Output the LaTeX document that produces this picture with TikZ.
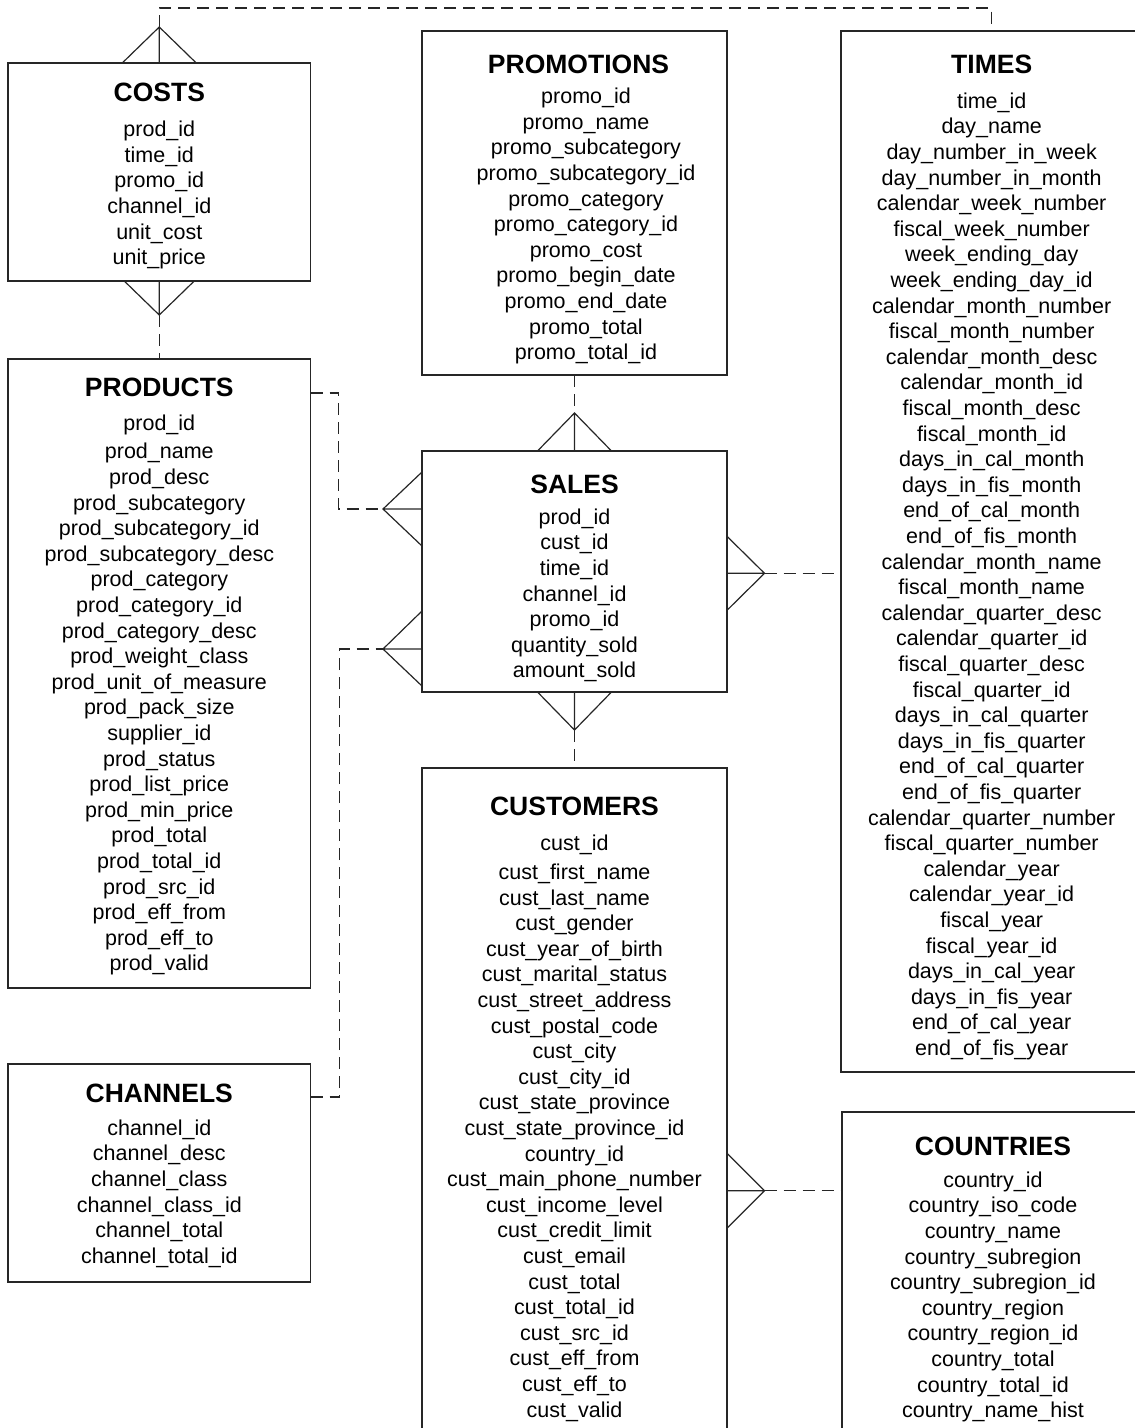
\documentclass[tikz,border=0pt]{standalone}
\usepackage{fontspec}
\setmainfont{Liberation Sans}
\usetikzlibrary{calc}
\tikzset{
  tbl/.style={draw=black!85, line width=1.3pt, anchor=north west, inner sep=0pt, outer sep=0pt},
  ttl/.style={anchor=base, inner sep=0pt, font=\fontsize{26.5}{30}\selectfont\bfseries},
  flds/.style={anchor=north, inner sep=0pt, align=center, font=\fontsize{21.5}{25.6}\selectfont},
  foot/.style={line width=1.2pt, draw=black!85},
  rel/.style={line width=1.2pt, draw=black!85, dash pattern=on 12pt off 7pt},
}
\newcommand{\fr}{\rule{0pt}{17pt}}
\begin{document}
\begin{tikzpicture}[x=1pt, y=-1pt]
\useasboundingbox (0,0) rectangle (1135,1428);
\clip (0,0) rectangle (1135,1428);
\coordinate (top) at (0,8);

% ---------- tables ----------
\node[tbl, minimum width=302.5pt, minimum height=218pt] (costs) at (8,63) {};
\node[ttl] (costsT) at (159.3,101) {COSTS};
\node[flds] (costsF) at (159.3,119.5) {\fr prod\_id\\time\_id\\promo\_id\\channel\_id\\unit\_cost\\unit\_price};

\node[tbl, minimum width=305pt, minimum height=344pt] (promotions) at (422,31) {};
\node[ttl] (promotionsT) at (578.5,73.3) {PROMOTIONS};
\node[flds] (promotionsF) at (586,86.5) {\fr promo\_id\\promo\_name\\promo\_subcategory\\promo\_subcategory\_id\\promo\_category\\promo\_category\_id\\promo\_cost\\promo\_begin\_date\\promo\_end\_date\\promo\_total\\promo\_total\_id};

\node[tbl, minimum width=301.4pt, minimum height=1041pt] (times) at (841,31) {};
\node[ttl] (timesT) at (991.7,73) {TIMES};
\node[flds] (timesF) at (991.7,91) {\fr time\_id\\day\_name\\day\_number\_in\_week\\day\_number\_in\_month\\calendar\_week\_number\\fiscal\_week\_number\\week\_ending\_day\\week\_ending\_day\_id\\calendar\_month\_number\\fiscal\_month\_number\\calendar\_month\_desc\\calendar\_month\_id\\fiscal\_month\_desc\\fiscal\_month\_id\\days\_in\_cal\_month\\days\_in\_fis\_month\\end\_of\_cal\_month\\end\_of\_fis\_month\\calendar\_month\_name\\fiscal\_month\_name\\calendar\_quarter\_desc\\calendar\_quarter\_id\\fiscal\_quarter\_desc\\fiscal\_quarter\_id\\days\_in\_cal\_quarter\\days\_in\_fis\_quarter\\end\_of\_cal\_quarter\\end\_of\_fis\_quarter\\calendar\_quarter\_number\\fiscal\_quarter\_number\\calendar\_year\\calendar\_year\_id\\fiscal\_year\\fiscal\_year\_id\\days\_in\_cal\_year\\days\_in\_fis\_year\\end\_of\_cal\_year\\end\_of\_fis\_year};

\node[tbl, minimum width=302.5pt, minimum height=629pt] (products) at (8,359) {};
\node[ttl] (productsT) at (159.3,396.7) {PRODUCTS};
\node[flds] (productsF) at (159.3,413.7) {\fr prod\_id\\[2.4pt]prod\_name\\prod\_desc\\prod\_subcategory\\prod\_subcategory\_id\\prod\_subcategory\_desc\\prod\_category\\prod\_category\_id\\prod\_category\_desc\\prod\_weight\_class\\prod\_unit\_of\_measure\\prod\_pack\_size\\supplier\_id\\prod\_status\\prod\_list\_price\\prod\_min\_price\\prod\_total\\prod\_total\_id\\prod\_src\_id\\prod\_eff\_from\\prod\_eff\_to\\prod\_valid};

\node[tbl, minimum width=305pt, minimum height=241pt] (sales) at (422,451) {};
\node[ttl] (salesT) at (574.5,493.5) {SALES};
\node[flds] (salesF) at (574.5,507) {\fr prod\_id\\cust\_id\\time\_id\\channel\_id\\promo\_id\\quantity\_sold\\amount\_sold};

\node[tbl, minimum width=305pt, minimum height=680pt] (customers) at (422,768) {};
\node[ttl] (customersT) at (574.5,815) {CUSTOMERS};
\node[flds] (customersF) at (574.5,833.7) {\fr cust\_id\\[3pt]cust\_first\_name\\cust\_last\_name\\cust\_gender\\cust\_year\_of\_birth\\cust\_marital\_status\\cust\_street\_address\\cust\_postal\_code\\cust\_city\\cust\_city\_id\\cust\_state\_province\\cust\_state\_province\_id\\country\_id\\cust\_main\_phone\_number\\cust\_income\_level\\cust\_credit\_limit\\cust\_email\\cust\_total\\cust\_total\_id\\cust\_src\_id\\cust\_eff\_from\\cust\_eff\_to\\cust\_valid};

\node[tbl, minimum width=302.5pt, minimum height=218pt] (channels) at (8,1064) {};
\node[ttl] (channelsT) at (159.3,1102.7) {CHANNELS};
\node[flds] (channelsF) at (159.3,1118) {\fr channel\_id\\channel\_desc\\channel\_class\\channel\_class\_id\\channel\_total\\channel\_total\_id};

\node[tbl, minimum width=302pt, minimum height=340pt] (countries) at (842,1112) {};
\node[ttl] (countriesT) at (993,1155) {COUNTRIES};
\node[flds] (countriesF) at (993,1170) {\fr country\_id\\country\_iso\_code\\country\_name\\country\_subregion\\country\_subregion\_id\\country\_region\\country\_region\_id\\country\_total\\country\_total\_id\\country\_name\_hist};

% ---------- COSTS -- TIMES ----------
\coordinate (a1) at ($(costs.north)+(0,-36)$);
\draw[foot] ($(costs.north)+(-37,0)$) -- (a1) -- ($(costs.north)+(37,0)$) (a1) -- (costs.north);
\draw[rel] (a1) -- (a1 |- top) -| (times.north);

% ---------- COSTS -- PRODUCTS ----------
\coordinate (a2) at ($(costs.south)+(0,34)$);
\draw[foot] ($(costs.south)+(-35,0)$) -- (a2) -- ($(costs.south)+(35,0)$) (a2) -- (costs.south);
\draw[rel] (a2) -- (products.north);

% ---------- PROMOTIONS -- SALES ----------
\coordinate (a3) at ($(sales.north)+(0,-38)$);
\draw[foot] ($(sales.north)+(-37,0)$) -- (a3) -- ($(sales.north)+(37,0)$) (a3) -- (sales.north);
\draw[rel] (promotions.south) -- (a3);

% ---------- SALES -- CUSTOMERS ----------
\coordinate (a4) at ($(sales.south)+(0,38)$);
\draw[foot] ($(sales.south)+(-37,0)$) -- (a4) -- ($(sales.south)+(37,0)$) (a4) -- (sales.south);
\draw[rel] (a4) -- (customers.north);

% ---------- PRODUCTS -- SALES ----------
\coordinate (b5) at ($(sales.west)+(0,-62.5)$);
\coordinate (a5) at ($(b5)+(-39,0)$);
\draw[foot] ($(b5)+(0,-37)$) -- (a5) -- ($(b5)+(0,37)$) (a5) -- (b5);
\coordinate (p5) at ($(products.north east)+(0,34)$);
\draw[rel] (p5) -- ++(28,0) |- (a5);

% ---------- CHANNELS -- SALES ----------
\coordinate (b6) at ($(sales.west)+(0,77.5)$);
\coordinate (a6) at ($(b6)+(-39,0)$);
\draw[foot] ($(b6)+(0,-38)$) -- (a6) -- ($(b6)+(0,37)$) (a6) -- (b6);
\coordinate (p6) at ($(channels.north east)+(0,33)$);
\draw[rel] (p6) -- ++(29,0) |- (a6);

% ---------- SALES -- TIMES ----------
\coordinate (b7) at ($(sales.east)+(0,1.8)$);
\coordinate (a7) at ($(b7)+(37.5,0)$);
\draw[foot] ($(b7)+(0,-37)$) -- (a7) -- ($(b7)+(0,37)$) (a7) -- (b7);
\draw[rel] (a7) -- (a7 -| times.west);

% ---------- CUSTOMERS -- COUNTRIES ----------
\coordinate (b8) at ($(customers.north east)+(0,422.7)$);
\coordinate (a8) at ($(b8)+(37.5,0)$);
\draw[foot] ($(b8)+(0,-37.5)$) -- (a8) -- ($(b8)+(0,37.5)$) (a8) -- (b8);
\draw[rel] (a8) -- (a8 -| countries.west);
\end{tikzpicture}
\end{document}
